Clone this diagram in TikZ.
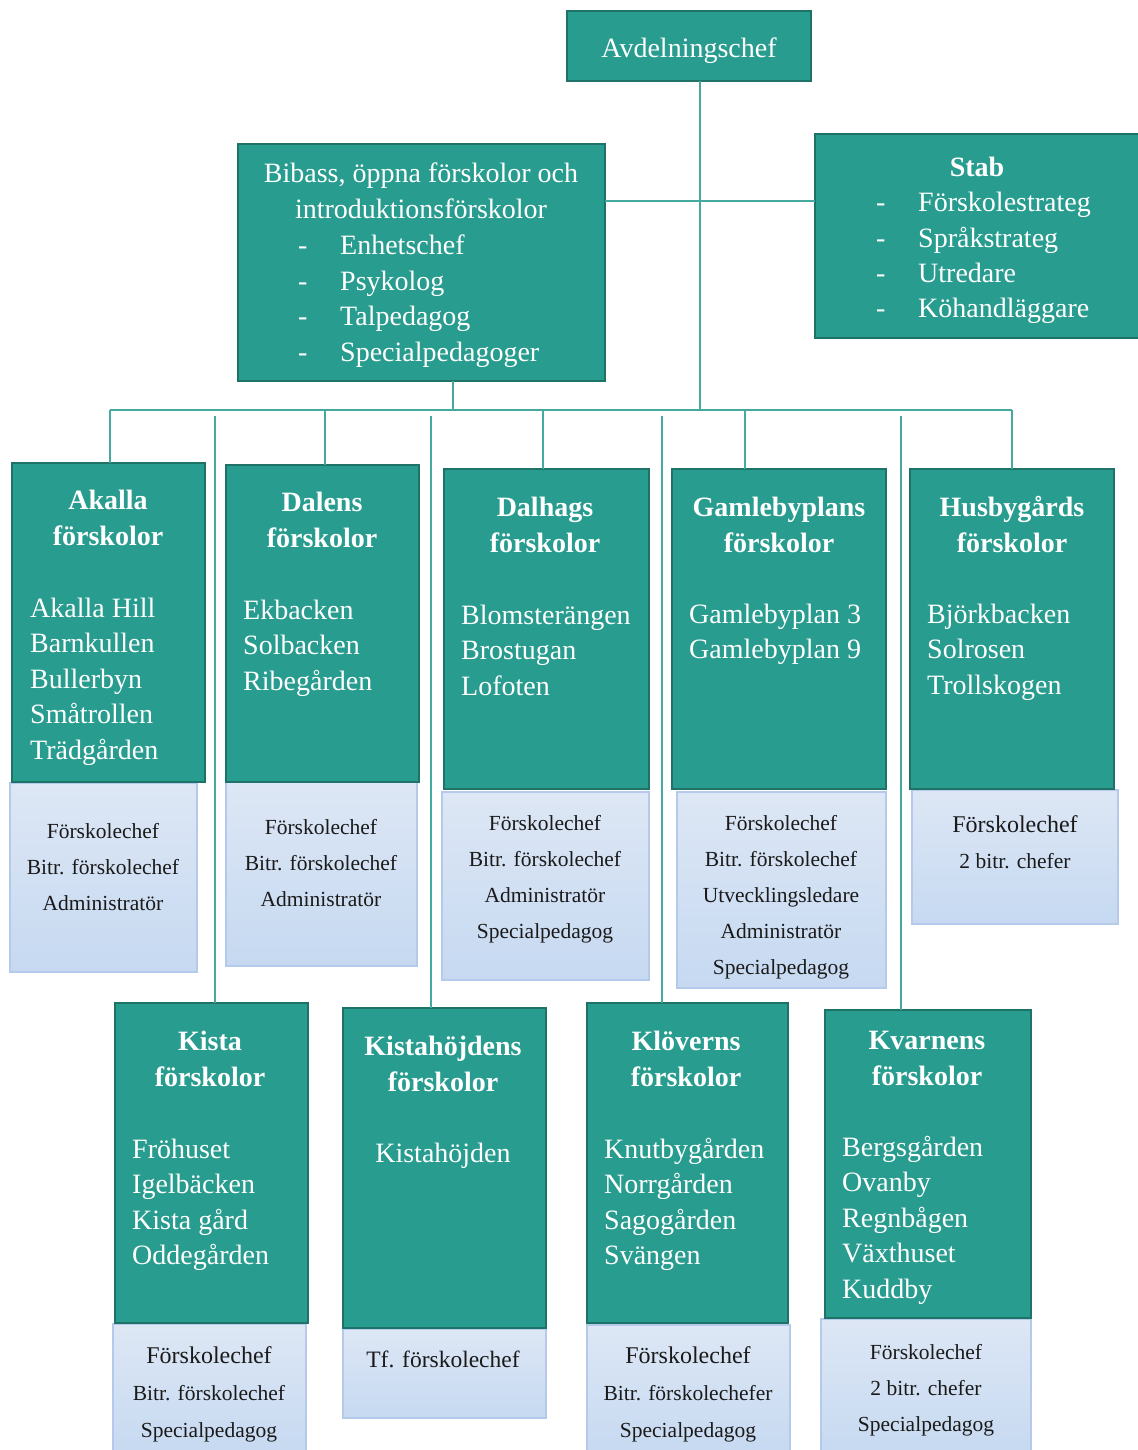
\documentclass[tikz,border=0pt]{standalone}
\usepackage{fontspec}
\setmainfont{Liberation Serif}
\definecolor{tealfill}{HTML}{289C8E}
\definecolor{tealedge}{HTML}{1E7268}
\definecolor{connc}{HTML}{45A9A0}
\definecolor{infotop}{HTML}{DDE7F5}
\definecolor{infobot}{HTML}{C6D9F1}
\definecolor{infoedge}{HTML}{B5CAEA}
\definecolor{infotext}{HTML}{1A1A1A}
\newcommand\mkbox[6]{\node[#1, minimum width={(#5)-(#3)}, minimum height={(#6)-(#4)}] (#2) at ({((#3)+(#5))/2},{((#4)+(#6))/2}) {};}
\tikzset{
  tealbox/.style={rectangle, fill=tealfill, draw=tealedge, line width=1.5pt, inner sep=0pt, outer sep=0pt},
  infobox/.style={rectangle, top color=infotop, bottom color=infobot, draw=infoedge, line width=1.2pt, inner sep=0pt, outer sep=0pt},
  conn/.style={draw=connc, line width=2pt},
  ttl/.style={font=\bfseries\fontsize{28}{36}\selectfont, text=white, align=center, anchor=north, inner sep=0pt},
  itm/.style={font=\fontsize{28}{35.5}\selectfont, text=white, align=left, anchor=north west, inner sep=0pt},
  itmc/.style={font=\fontsize{28}{35.5}\selectfont, text=white, align=center, anchor=north, inner sep=0pt},
  inf/.style={font=\fontsize{21.5}{36}\selectfont, text=infotext, align=center, anchor=north, inner sep=0pt},
}
\newcommand\bigfnt{\fontsize{24}{36}\selectfont}
\begin{document}
\begin{tikzpicture}[x=1pt,y=-1pt]
\useasboundingbox (0,0) rectangle (1137,1450);
% connector coordinates
\coordinate (hub) at (700,410);
\coordinate (j1) at (700,201);
\coordinate (bibdrop) at (453,410);
\coordinate (busL) at (110,410);
\coordinate (busR) at (1012,410);
\coordinate (dDal) at (325,410);
\coordinate (dDlh) at (543,410);
\coordinate (dGam) at (745,410);
\coordinate (lKis) at (215,416);
\coordinate (lKih) at (431,416);
\coordinate (lKlo) at (662,416);
\coordinate (lKva) at (901,416);
% boxes
\mkbox{infobox}{akaI}{10}{783}{197}{972}
\mkbox{infobox}{dalI}{226}{782}{417}{966}
\mkbox{infobox}{dlhI}{442}{792}{649}{980}
\mkbox{infobox}{gamI}{677}{792}{886}{988}
\mkbox{infobox}{husI}{912}{790}{1118}{924}
\mkbox{infobox}{kisI}{113}{1324}{306}{1456}
\mkbox{infobox}{kihI}{343}{1329}{546}{1418}
\mkbox{infobox}{kloI}{587}{1325}{790}{1456}
\mkbox{infobox}{kvaI}{821}{1319}{1031}{1456}
\mkbox{tealbox}{avd}{567}{11}{811}{81}
\mkbox{tealbox}{bib}{238}{144}{605}{381}
\mkbox{tealbox}{stab}{815}{134}{1142}{338}
\mkbox{tealbox}{aka}{12}{463}{205}{782}
\mkbox{tealbox}{dal}{226}{465}{419}{782}
\mkbox{tealbox}{dlh}{444}{469}{649}{789}
\mkbox{tealbox}{gam}{672}{469}{886}{789}
\mkbox{tealbox}{hus}{910}{469}{1114}{789}
\mkbox{tealbox}{kis}{115}{1003}{308}{1323}
\mkbox{tealbox}{kih}{343}{1008}{546}{1328}
\mkbox{tealbox}{klo}{587}{1003}{788}{1323}
\mkbox{tealbox}{kva}{825}{1010}{1031}{1318}
% connectors
\draw[conn] (hub |- avd.south) -- (hub);
\draw[conn] (bib.east |- j1) -- (stab.west |- j1);
\draw[conn] (bibdrop |- bib.south) -- (bibdrop);
\draw[conn] (busL) -- (busR);
\draw[conn] (busL) -- (busL |- aka.north);
\draw[conn] (dDal) -- (dDal |- dal.north);
\draw[conn] (dDlh) -- (dDlh |- dlh.north);
\draw[conn] (dGam) -- (dGam |- gam.north);
\draw[conn] (busR) -- (busR |- hus.north);
\draw[conn] (lKis) -- (lKis |- kis.north);
\draw[conn] (lKih) -- (lKih |- kih.north);
\draw[conn] (lKlo) -- (lKlo |- klo.north);
\draw[conn] (lKva) -- (lKva |- kva.north);
% top texts
\node[itmc] (avdT) at (689,48-15.85) {\strut Avdelningschef};
\node[itmc, font=\fontsize{28}{36}\selectfont] (bibT) at (421,173-15.85) {\strut Bibass, öppna förskolor och\\\strut introduktionsförskolor};
\node[itm, font=\fontsize{28}{35.7}\selectfont] (bibD) at (298,245-15.85) {\strut -\\\strut -\\\strut -\\\strut -};
\node[itm, font=\fontsize{28}{35.7}\selectfont] (bibL) at (340,245-15.85) {\strut Enhetschef\\\strut Psykolog\\\strut Talpedagog\\\strut Specialpedagoger};
\node[ttl] (stabT) at (977,167-15.7) {\strut Stab};
\node[itm, font=\fontsize{28}{35.2}\selectfont] (stabD) at (876,203-15.85) {\strut -\\\strut -\\\strut -\\\strut -};
\node[itm, font=\fontsize{28}{35.2}\selectfont] (stabL) at (918,203-15.85) {\strut Förskolestrateg\\\strut Språkstrateg\\\strut Utredare\\\strut Köhandläggare};
% top row
\node[ttl] (akaT) at (108,500-15.7) {\strut Akalla\\\strut förskolor};
\node[itm] (akaL) at (30,608-15.85) {\strut Akalla Hill\\\strut Barnkullen\\\strut Bullerbyn\\\strut Småtrollen\\\strut Trädgården};
\node[inf] (akaIT) at (103,831-18.2) {\strut Förskolechef\\\strut Bitr. förskolechef\\\strut Administratör};
\node[ttl] (dalT) at (322,502-15.7) {\strut Dalens\\\strut förskolor};
\node[itm] (dalL) at (243,610-15.85) {\strut Ekbacken\\\strut Solbacken\\\strut Ribegården};
\node[inf] (dalIT) at (321,827-18.2) {\strut Förskolechef\\\strut Bitr. förskolechef\\\strut Administratör};
\node[ttl] (dlhT) at (545,507-15.7) {\strut Dalhags\\\strut förskolor};
\node[itm] (dlhL) at (461,615-15.85) {\strut Blomsterängen\\\strut Brostugan\\\strut Lofoten};
\node[inf] (dlhIT) at (545,823-18.2) {\strut Förskolechef\\\strut Bitr. förskolechef\\\strut Administratör\\\strut Specialpedagog};
\node[ttl] (gamT) at (779,507-15.7) {\strut Gamlebyplans\\\strut förskolor};
\node[itm] (gamL) at (689,614-15.85) {\strut Gamlebyplan 3\\\strut Gamlebyplan 9};
\node[inf] (gamIT) at (781,823-18.2) {\strut Förskolechef\\\strut Bitr. förskolechef\\\strut Utvecklingsledare\\\strut Administratör\\\strut Specialpedagog};
\node[ttl] (husT) at (1012,507-15.7) {\strut Husbygårds\\\strut förskolor};
\node[itm] (husL) at (927,614-15.85) {\strut Björkbacken\\\strut Solrosen\\\strut Trollskogen};
\node[inf] (husIT) at (1015,825-18.2) {{\bigfnt\strut Förskolechef}\\\strut 2 bitr. chefer};
% bottom row
\node[ttl] (kisT) at (210,1041-15.7) {\strut Kista\\\strut förskolor};
\node[itm] (kisL) at (132,1149-15.85) {\strut Fröhuset\\\strut Igelbäcken\\\strut Kista gård\\\strut Oddegården};
\node[inf, font=\fontsize{21.5}{37}\selectfont] (kisIT) at (209,1356-18.2) {{\fontsize{24}{37}\selectfont\strut Förskolechef}\\\strut Bitr. förskolechef\\\strut Specialpedagog};
\node[ttl] (kihT) at (443,1046-15.7) {\strut Kistahöjdens\\\strut förskolor};
\node[itmc] (kihL) at (443,1153-15.85) {\strut Kistahöjden};
\node[inf] (kihIT) at (443,1360-18.2) {{\fontsize{23.5}{36}\selectfont\strut Tf. förskolechef}};
\node[ttl] (kloT) at (686,1041-15.7) {\strut Klöverns\\\strut förskolor};
\node[itm] (kloL) at (604,1149-15.85) {\strut Knutbygården\\\strut Norrgården\\\strut Sagogården\\\strut Svängen};
\node[inf, font=\fontsize{21.5}{37}\selectfont] (kloIT) at (688,1356-18.2) {{\fontsize{24}{37}\selectfont\strut Förskolechef}\\\strut Bitr. förskolechefer\\\strut Specialpedagog};
\node[ttl] (kvaT) at (927,1040-15.7) {\strut Kvarnens\\\strut förskolor};
\node[itm] (kvaL) at (842,1147-15.85) {\strut Bergsgården\\\strut Ovanby\\\strut Regnbågen\\\strut Växthuset\\\strut Kuddby};
\node[inf] (kvaIT) at (926,1352-18.2) {\strut Förskolechef\\\strut 2 bitr. chefer\\\strut Specialpedagog};
\end{tikzpicture}
\end{document}
